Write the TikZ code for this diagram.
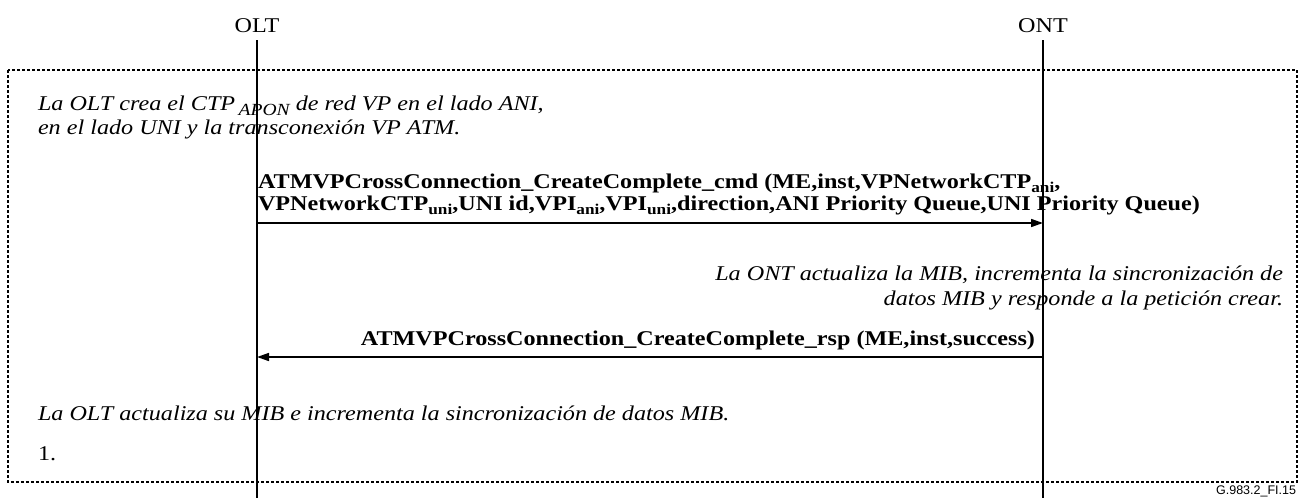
\documentclass[tikz,border=0pt]{standalone}
\usepackage{fontspec}
\setmainfont{Liberation Serif}[FakeStretch=1.15]
\setsansfont{Liberation Sans}
\usetikzlibrary{arrows.meta}
\newcommand\bsub[1]{\raisebox{-0.45ex}{\fontsize{15}{15}\selectfont #1}}
\newcommand\isub[1]{\raisebox{-0.55ex}{\fontsize{17}{17}\selectfont #1}}
\begin{document}
\begin{tikzpicture}[x=1pt,y=-1pt,
  every node/.style={inner sep=0pt,outer sep=0pt},
  lifeline/.style={line width=1.6pt},
  msg/.style={line width=1.6pt,-{Triangle[length=12pt,width=8pt]}},
  frame/.style={line width=1.3pt,dash pattern=on 3pt off 2pt},
  note/.style={font=\fontsize{21}{25}\selectfont\itshape},
  msglabel/.style={font=\fontsize{21}{22}\selectfont\bfseries},
  entity/.style={font=\fontsize{21}{22}\selectfont,anchor=base}]
\useasboundingbox (0,0) rectangle (1304,498);
% entities
\node[entity] (olt) at (257,32) {OLT};
\node[entity] (ont) at (1043,32) {ONT};
\coordinate (oltTop) at (257,40);
\coordinate (oltBot) at (257,498);
\coordinate (ontTop) at (1043,40);
\coordinate (ontBot) at (1043,498);
% frame
\coordinate (fa) at (8,70);
\coordinate (fb) at (1297,482);
\draw[frame] (fa) rectangle (fb);
% lifelines
\draw[lifeline] (oltTop) -- (oltBot);
\draw[lifeline] (ontTop) -- (ontBot);
% notes
\node[note,anchor=base west] (n1a) at (38,110) {La OLT crea el CTP\,\isub{APON} de red VP en el lado ANI,};
\node[note,anchor=base west] (n1b) at (38,134) {en el lado UNI y la transconexión VP ATM.};
% message 1
\node[msglabel,anchor=base west] (l1a) at (258,188) {ATMVPCrossConnection\_CreateComplete\_cmd (ME,inst,VPNetworkCTP\bsub{ani},};
\node[msglabel,anchor=base west] (l1b) at (258,210) {VPNetworkCTP\bsub{uni},UNI id,VPI\bsub{ani},VPI\bsub{uni},direction,ANI Priority Queue,UNI Priority Queue)};
\coordinate (m1s) at (257,223);
\coordinate (m1e) at (1043,223);
\draw[msg] (m1s) -- (m1e);
% ONT note
\node[note,anchor=base east] (n2a) at (1283,280) {La ONT actualiza la MIB, incrementa la sincronización de};
\node[note,anchor=base east] (n2b) at (1283,305) {datos MIB y responde a la petición crear.};
% message 2
\node[msglabel,anchor=base east] (l2) at (1035,345) {ATMVPCrossConnection\_CreateComplete\_rsp (ME,inst,success)};
\coordinate (m2s) at (1043,357);
\coordinate (m2e) at (257,357);
\draw[msg] (m2s) -- (m2e);
% OLT note
\node[note,anchor=base west] (n3) at (38,420) {La OLT actualiza su MIB e incrementa la sincronización de datos MIB.};
\node[font=\fontsize{21}{22}\selectfont,anchor=base west] (num) at (38,460) {1.};
\node[font=\sffamily\fontsize{12.5}{12.5}\selectfont,anchor=base east] (fig) at (1296,494) {G.983.2\_FI.15};
\end{tikzpicture}
\end{document}
